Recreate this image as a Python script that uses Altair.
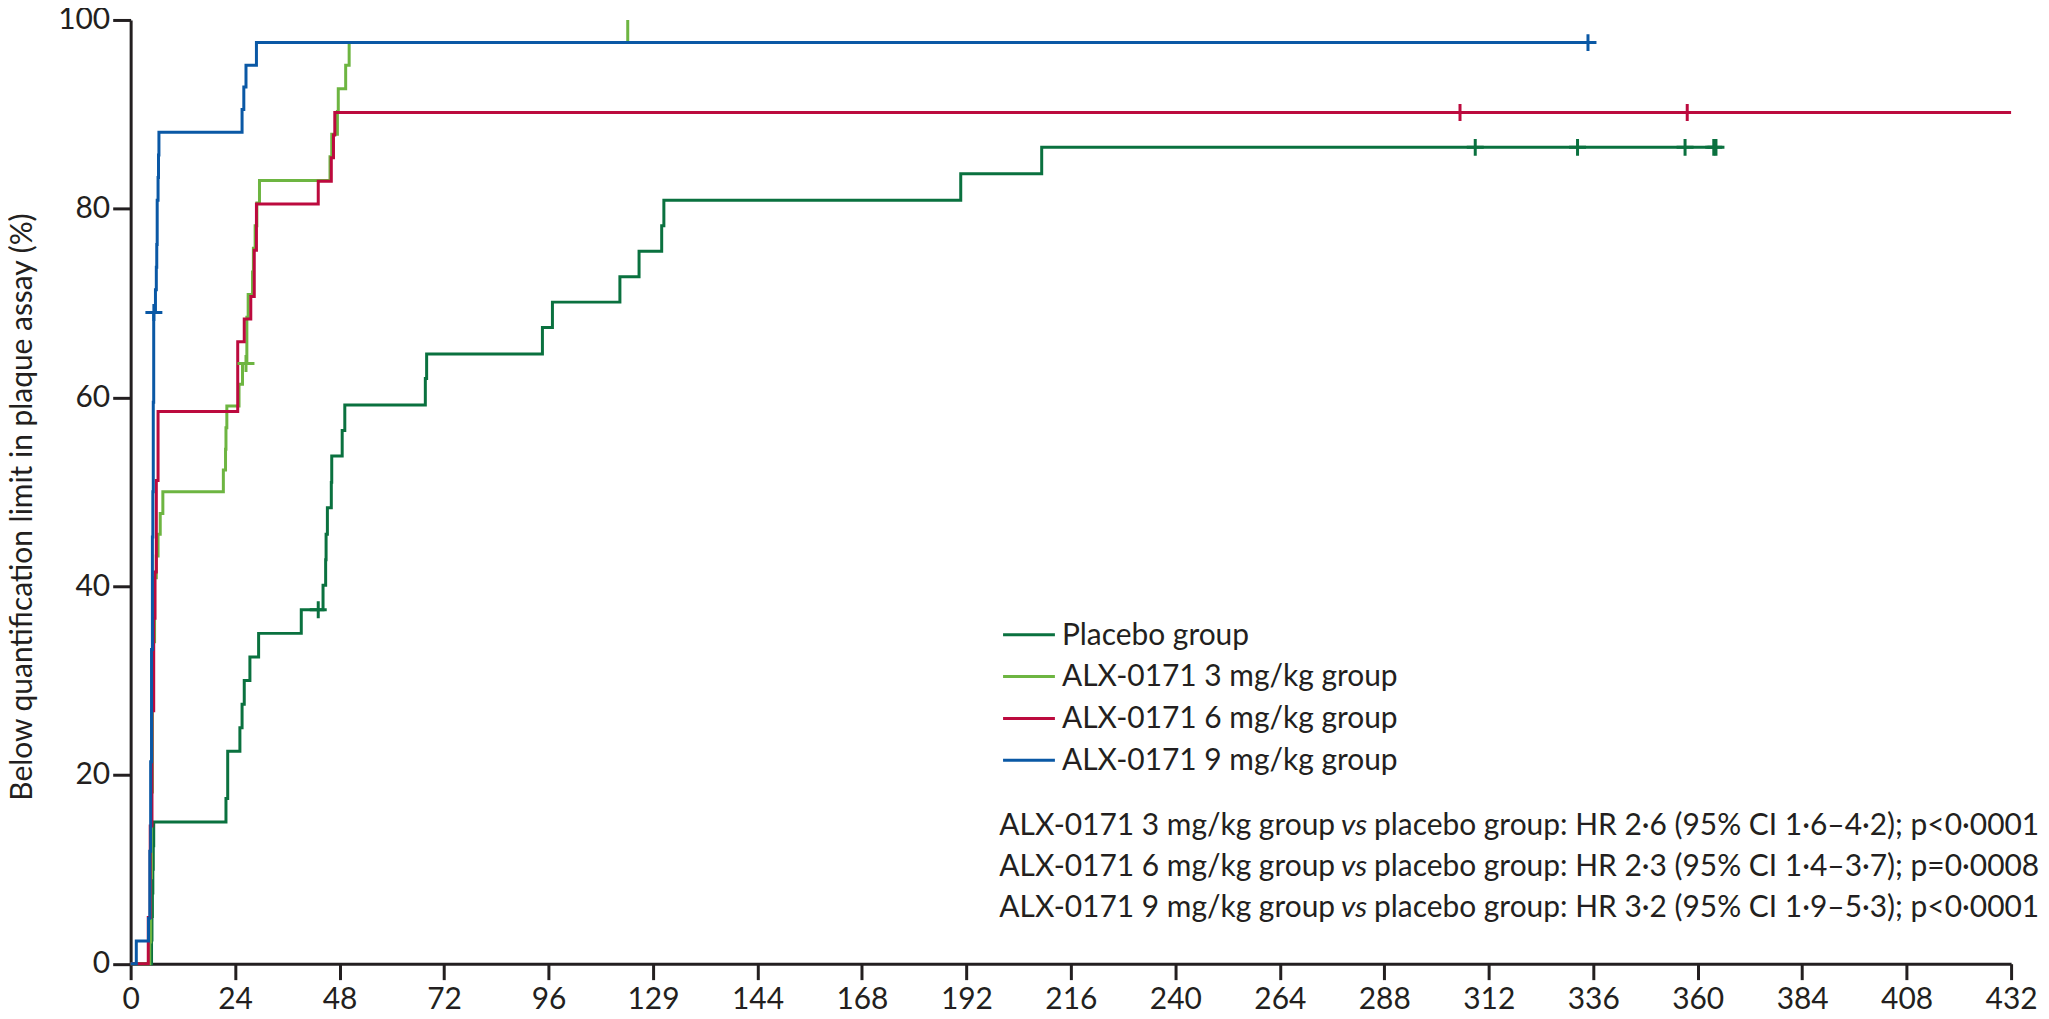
import altair as alt
import pandas as pd

# ---------------- data ----------------
group_names = ["Placebo group", "ALX-0171 3 mg/kg group", "ALX-0171 6 mg/kg group", "ALX-0171 9 mg/kg group"]
group_colors = ["#0a713f", "#6db541", "#bc0a3e", "#0a58a5"]

placebo_t = [0, 4.8, 4.9, 5.0, 5.1, 5.2, 5.3, 21.9, 22.3, 25.1, 25.6, 26.1, 27.4, 29.4, 39.2, 44.2, 44.8,
             44.9, 45.2, 46.1, 46.2, 48.6, 49.2, 67.7, 68.0, 94.6, 96.9, 112.4, 116.8, 122.0, 122.5, 190.7,
             209.3, 364.2]
placebo_p = [0, 2.5, 5.0, 7.5, 10.0, 12.5, 15.0, 17.5, 22.5, 25.0, 27.5, 30.0, 32.5, 35.0, 37.5, 40.1, 42.8,
             45.5, 48.3, 51.0, 53.8, 56.5, 59.2, 62.0, 64.6, 67.4, 70.1, 72.8, 75.5, 78.2, 80.9, 83.7,
             86.5, 86.5]
placebo_cens_t = [43.1, 308.9, 332.4, 357.1, 363.7, 364.2]
placebo_cens_p = [37.5, 86.5, 86.5, 86.5, 86.5, 86.5]

mg3_t = [0, 4.4, 4.6, 4.8, 5.0, 5.2, 5.5, 5.9, 6.3, 6.8, 7.4, 21.3, 21.8, 21.9, 22.1, 24.9, 25.7, 26.7,
         27.0, 28.0, 28.2, 28.6, 29.0, 29.6, 45.8, 46.2, 47.5, 47.7, 49.4, 50.2, 114.2]
mg3_p = [0, 2.3, 9.1, 18.2, 27.3, 34.1, 40.9, 43.2, 45.5, 47.7, 50.0, 52.3, 54.5, 56.8, 59.1, 61.4, 63.6, 68.5,
         70.9, 73.3, 75.8, 78.2, 80.6, 83.0, 85.5, 87.9, 90.3, 92.7, 95.2, 97.6, 100.0]
mg3_cens_t = [26.5]
mg3_cens_p = [63.6]

mg6_t = [0, 4.05, 4.5, 4.9, 5.3, 5.6, 5.9, 6.3, 24.6, 26.1, 27.6, 28.4, 28.9, 43.1, 46.1, 46.6, 46.9, 432]
mg6_p = [0, 4.9, 14.6, 26.8, 36.6, 41.5, 51.2, 58.5, 65.9, 68.3, 70.7, 75.6, 80.5, 82.9, 85.4, 87.8, 90.2, 90.2]
mg6_cens_t = [305.4, 357.6]
mg6_cens_p = [90.2, 90.2]

mg9_t = [0, 1.3, 4.1, 4.4, 4.6, 4.8, 5.0, 5.1, 5.2, 5.3, 5.7, 5.9, 6.0, 6.1, 6.3, 6.4, 6.5, 25.6, 26.0, 26.5,
         28.9, 334.8]
mg9_p = [0, 2.4, 4.8, 11.9, 21.4, 33.3, 45.2, 50.0, 59.5, 69.0, 71.4, 73.8, 76.2, 80.9, 83.3, 85.7, 88.1, 90.5,
         92.9, 95.2, 97.6, 97.6]
mg9_cens_t = [5.34, 334.8]
mg9_cens_p = [69.0, 97.6]

x_tick_values = [0, 24, 48, 72, 96, 120, 144, 168, 192, 216, 240, 264, 288, 312, 336, 360, 384, 408, 432]
x_tick_labels = ["0", "24", "48", "72", "96", "129", "144", "168", "192", "216", "240", "264", "288",
                 "312", "336", "360", "384", "408", "432"]
y_tick_values = [0, 20, 40, 60, 80, 100]

hr_prefix = ["ALX-0171 3 mg/kg group", "ALX-0171 6 mg/kg group", "ALX-0171 9 mg/kg group"]
hr_vs = "vs"
hr_suffix = ["placebo group: HR 2·6 (95% CI 1·6–4·2); p<0·0001",
             "placebo group: HR 2·3 (95% CI 1·4–3·7); p=0·0008",
             "placebo group: HR 3·2 (95% CI 1·9–5·3); p<0·0001"]

y_title = "Below quantification limit in plaque assay (%)"

# ---------------- styling / layout ----------------
FONT = "Lato"
INK = "#231f20"
W, H = 1886, 946.5
FS = 30

series = [
    (placebo_t, placebo_p, placebo_cens_t, placebo_cens_p),
    (mg3_t, mg3_p, mg3_cens_t, mg3_cens_p),
    (mg6_t, mg6_p, mg6_cens_t, mg6_cens_p),
    (mg9_t, mg9_p, mg9_cens_t, mg9_cens_p),
]

label_expr = "".join(
    f"datum.value == {v} ? '{l}' : " for v, l in zip(x_tick_values, x_tick_labels)
) + "''"

x_scale = alt.Scale(domain=[0, 432], nice=False, zero=False)
y_scale = alt.Scale(domain=[0, 100], nice=False, zero=False)

x_axis = alt.Axis(values=x_tick_values, labelExpr=label_expr, title=None, grid=False,
                  tickSize=16, tickWidth=3, tickColor=INK, domainWidth=3, domainColor=INK,
                  labelFont=FONT, labelFontSize=FS, labelColor=INK, labelPadding=5,
                  labelFlush=False, labelOverlap=False)
y_axis = alt.Axis(values=y_tick_values, title=y_title, grid=False,
                  tickSize=18, tickWidth=3, tickColor=INK, domainWidth=3, domainColor=INK,
                  labelFont=FONT, labelFontSize=FS, labelColor=INK, labelPadding=3,
                  titleFont=FONT, titleFontSize=30, titleFontWeight="normal", titleColor=INK,
                  titleX=-99, titleY=488, titleBaseline="alphabetic", titleAlign="center",
                  titleAngle=270)

enc_x = alt.X("t:Q", scale=x_scale, axis=x_axis)
enc_y = alt.Y("p:Q", scale=y_scale, axis=y_axis)

layers = []
for (t, p, ct, cp), col in zip(series, group_colors):
    df = pd.DataFrame({"t": t, "p": p})
    layers.append(
        alt.Chart(df).mark_line(interpolate="step-after", strokeWidth=3, color=col)
        .encode(x=enc_x, y=enc_y)
    )
for (t, p, ct, cp), col in zip(series, group_colors):
    dfc = pd.DataFrame({"t": ct, "p": cp})
    layers.append(
        alt.Chart(dfc).mark_point(shape="M-1,0L1,0M0,-1L0,1", size=289, filled=False,
                                  strokeWidth=3, opacity=1, color=col)
        .encode(x=enc_x, y=enc_y)
    )

# manual legend (pixel positions relative to plot area)
one = pd.DataFrame({"a": [0]})
leg_x0, leg_x1, leg_tx = 875, 927, 934
leg_y0, leg_dy = 616.5, 42
for i, (name, col) in enumerate(zip(group_names, group_colors)):
    yy = leg_y0 + i * leg_dy
    layers.append(alt.Chart(one).mark_rule(strokeWidth=3, color=col)
                  .encode(x=alt.value(leg_x0), x2=alt.value(leg_x1), y=alt.value(yy)))
    layers.append(alt.Chart(one).mark_text(text=name, align="left", baseline="alphabetic",
                                           font=FONT, fontSize=FS, color=INK)
                  .encode(x=alt.value(leg_tx), y=alt.value(yy + 10)))

# hazard-ratio annotation
hr_R, hr_vs_x, hr_suf_x = 1208, 1214, 1247
hr_y0, hr_dy = 817.5, 41
for i, (pre, suf) in enumerate(zip(hr_prefix, hr_suffix)):
    yy = hr_y0 + i * hr_dy
    layers.append(alt.Chart(one).mark_text(text=pre, align="right", baseline="alphabetic",
                                           font=FONT, fontSize=FS, color=INK)
                  .encode(x=alt.value(hr_R), y=alt.value(yy)))
    layers.append(alt.Chart(one).mark_text(text=hr_vs, align="left", baseline="alphabetic",
                                           font=FONT, fontSize=FS, fontStyle="italic", color=INK)
                  .encode(x=alt.value(hr_vs_x), y=alt.value(yy)))
    layers.append(alt.Chart(one).mark_text(text=suf, align="left", baseline="alphabetic",
                                           font=FONT, fontSize=FS, color=INK)
                  .encode(x=alt.value(hr_suf_x), y=alt.value(yy)))

chart = alt.layer(*layers).properties(
    width=W, height=H,
    autosize=alt.AutoSizeParams(type="none"),
    padding={"left": 123, "top": 10.5, "right": 30, "bottom": 54},
).configure_view(stroke=None)

chart.save("out.html", embed_options={"renderer": "svg", "actions": False})
